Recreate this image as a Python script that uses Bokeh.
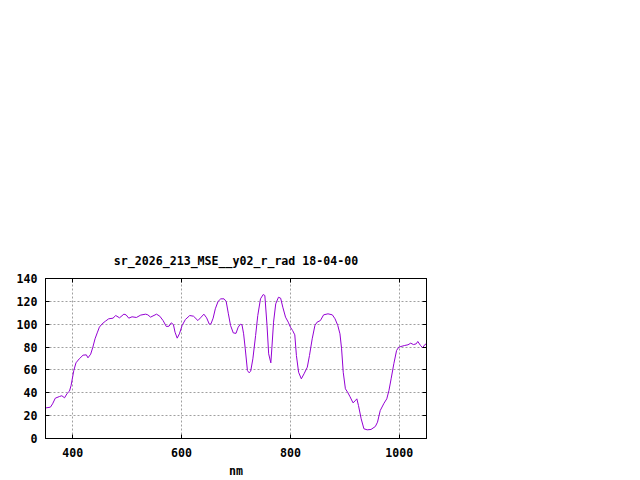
from bokeh.plotting import figure
from bokeh.models import LinearAxis, FixedTicker, Range1d
from bokeh.embed import file_html
from bokeh.resources import INLINE

title_text = "sr_2026_213_MSE__y02_r_rad 18-04-00"
x_label = "nm"
x_ticks = [400, 600, 800, 1000]
y_ticks = [0, 20, 40, 60, 80, 100, 120, 140]

wavelength = [351, 359, 363, 368, 376, 380, 385, 390, 394, 397, 402, 406, 412, 419, 425, 428,
              433, 437, 441, 445, 449, 454, 460, 466, 474, 479, 486, 494, 498, 503, 509, 517,
              525, 534, 538, 543, 554, 560, 566, 572, 577, 581, 585, 588, 592, 596, 601, 607,
              615, 622, 630, 636, 641, 646, 651, 654, 658, 662, 667, 672, 678, 682, 686, 690,
              695, 700, 704, 708, 711, 714, 717, 721, 724, 727, 731, 736, 740, 745, 750, 753,
              757, 760, 764, 766, 769, 773, 778, 782, 786, 791, 796, 800, 804, 808, 811, 815,
              820, 825, 831, 835, 840, 845, 849, 855, 861, 869, 877, 882, 887, 891, 894, 897,
              901, 905, 909, 915, 919, 922, 925, 930, 935, 941, 948, 956, 960, 965, 972, 977,
              981, 985, 990, 995, 999, 1003, 1010, 1016, 1021, 1026, 1031, 1034, 1039, 1043,
              1047, 1050]
radiance = [26.8, 27.4, 30.3, 35.3, 36.8, 37.4, 35.6, 39.6, 41.4, 46.4, 59.5, 66.2, 69.7, 72.9,
            73.2, 70.6, 73.8, 79.9, 87.2, 92.4, 97.4, 100.3, 102.6, 104.7, 105.3, 107.6, 105.6,
            108.8, 108.2, 105.3, 106.5, 105.9, 108.0, 108.8, 108.2, 106.2, 108.8, 107.0, 103.2,
            98.0, 98.3, 101.2, 99.7, 93.0, 87.8, 91.6, 98.9, 104.1, 107.6, 107.0, 103.2, 106.2,
            108.8, 105.6, 100.0, 100.3, 105.3, 113.5, 119.9, 122.2, 122.2, 119.9, 109.1, 98.9,
            92.4, 92.0, 97.4, 100.0, 99.5, 91.6, 78.5, 59.5, 57.5, 58.9, 69.7, 90.1, 107.6,
            122.2, 126.0, 125.1, 98.9, 74.1, 66.2, 79.9, 101.8, 117.8, 123.6, 122.8, 114.9,
            106.2, 101.8, 97.4, 94.5, 90.7, 72.6, 58.0, 52.2, 56.6, 62.4, 72.6, 87.2, 98.9,
            101.8, 103.2, 108.2, 109.1, 108.2, 104.7, 98.9, 91.6, 78.5, 58.0, 43.5, 40.5, 37.0,
            31.2, 33.0, 34.7, 28.9, 17.2, 8.5, 7.6, 7.9, 10.5, 14.3, 24.5, 30.9, 34.7, 42.0,
            52.2, 65.4, 77.0, 79.9, 80.5, 81.4, 82.0, 83.4, 82.2, 82.8, 84.9, 81.4, 79.4, 82.2,
            82.8]

FONT = "DejaVu Sans Mono"
FSIZE = "11.6px"
W, H = 632, 480

p = figure(width=W, height=H, output_backend="svg", toolbar_location=None,
           x_range=Range1d(350, 1050), y_range=Range1d(0, 140),
           min_border_left=45, min_border_right=W - 426, min_border_top=278,
           min_border_bottom=H - 438, title=title_text)
p.title.align = "center"
p.title.text_font = FONT
p.title.text_font_size = FSIZE
p.title.text_font_style = "bold"
p.title.text_color = "black"
p.title.standoff = 21
p.outline_line_color = "black"
p.outline_line_width = 1
p.background_fill_color = "white"
p.border_fill_color = "white"

p.line(wavelength, radiance, line_color="#9400d3", line_width=1)

bottom_ax = p.below[0]
left_ax = p.left[0]
bottom_ax.ticker = FixedTicker(ticks=x_ticks)
bottom_ax.axis_label = x_label
left_ax.ticker = FixedTicker(ticks=y_ticks)

extra_top = LinearAxis(ticker=FixedTicker(ticks=x_ticks))
extra_right = LinearAxis(ticker=FixedTicker(ticks=y_ticks))
p.add_layout(extra_top, "above")
p.add_layout(extra_right, "right")

for ax in [bottom_ax, left_ax, extra_top, extra_right]:
    ax.major_tick_in = 4
    ax.major_tick_out = 0
    ax.minor_tick_in = 0
    ax.minor_tick_out = 0
    ax.axis_line_color = "black"
    ax.major_tick_line_color = "black"
    ax.major_label_text_font = FONT
    ax.major_label_text_font_size = FSIZE
    ax.major_label_text_font_style = "bold"
    ax.major_label_text_color = "black"
    ax.axis_label_text_font = FONT
    ax.axis_label_text_font_size = FSIZE
    ax.axis_label_text_font_style = "bold"
    ax.axis_label_text_color = "black"

for ax in [extra_top, extra_right]:
    ax.major_label_text_color = None
    ax.major_label_text_font_size = "1px"
    ax.major_label_standoff = 0

bottom_ax.major_label_standoff = 9
left_ax.major_label_standoff = 8
bottom_ax.axis_label_standoff = 4

p.xgrid.ticker = FixedTicker(ticks=x_ticks)
p.ygrid.ticker = FixedTicker(ticks=y_ticks)
for g in [p.xgrid[0], p.ygrid[0]]:
    g.grid_line_color = "#a0a0a0"
    g.grid_line_dash = "2 2"
    g.grid_line_width = 1

open("out.html", "w").write(file_html(p, INLINE))
